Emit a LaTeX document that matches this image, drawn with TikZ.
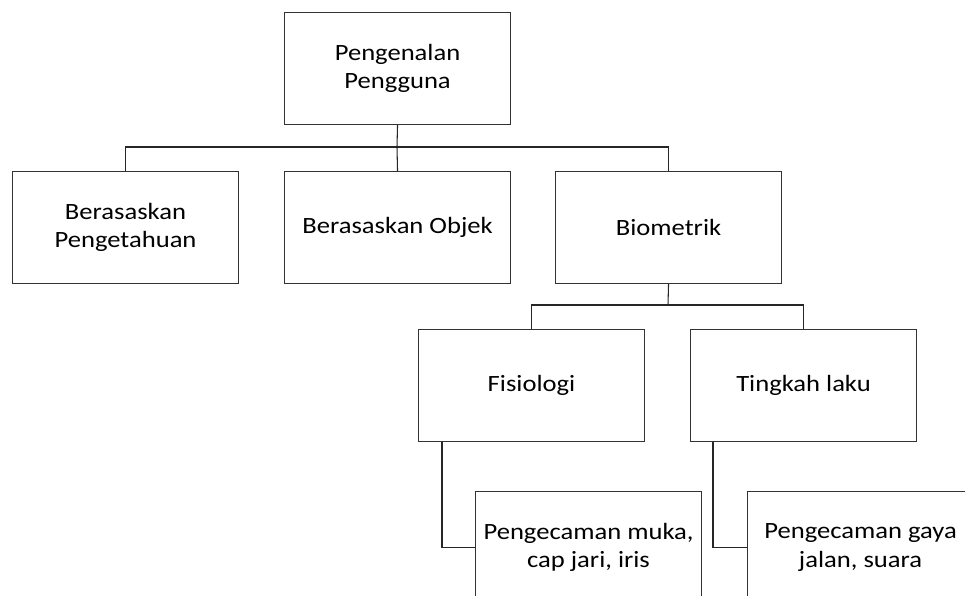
\documentclass[tikz,border=0pt]{standalone}
\usepackage{fontspec}
\setmainfont{Carlito}
\newfontfamily\boxfont[FakeStretch=1.14]{Carlito}
\begin{document}
\begin{tikzpicture}[x=0.75pt,y=-0.75pt,
  box/.style={draw=black!80, line width=0.8pt, minimum width=226*0.75pt, minimum height=112*0.75pt,
              align=center, inner sep=2pt, font=\boxfont\fontsize{17.5}{21.5}\selectfont, anchor=north west},
  link/.style={draw=black!85, line width=0.8pt}]
\clip (0,0) rectangle (965,596);
\useasboundingbox (0,0) rectangle (965,596);
% root
\node[box] (root) at (284,12) {Pengenalan\\Pengguna};
% first level
\node[box] (know) at (12,171) {Berasaskan\\Pengetahuan};
\node[box] (obj)  at (284,171) {Berasaskan Objek};
\node[box] (bio)  at (555,171) {Biometrik};
% second level
\node[box] (fis)  at (418,329) {Fisiologi};
\node[box] (ting) at (690,329) {Tingkah laku};
% leaves
\node[box] (muka) at (475,491) {Pengecaman muka,\\cap jari, iris};
\node[box] (gaya) at (747,491) {Pengecaman gaya\\jalan, suara};
% connectors
\coordinate (j1) at (397,147);
\draw[link] (root.south) -- (j1);
\draw[link] (know.north) |- (j1) -| (bio.north);
\draw[link] (j1) -- (obj.north);
\coordinate (j2) at (668,305);
\draw[link] (bio.south) -- (j2);
\draw[link] (fis.north) |- (j2) -| (ting.north);
\draw[link] (fis.south west) ++(24,0) |- (muka.west);
\draw[link] (ting.south west) ++(23,0) |- (gaya.west);
\end{tikzpicture}
\end{document}
